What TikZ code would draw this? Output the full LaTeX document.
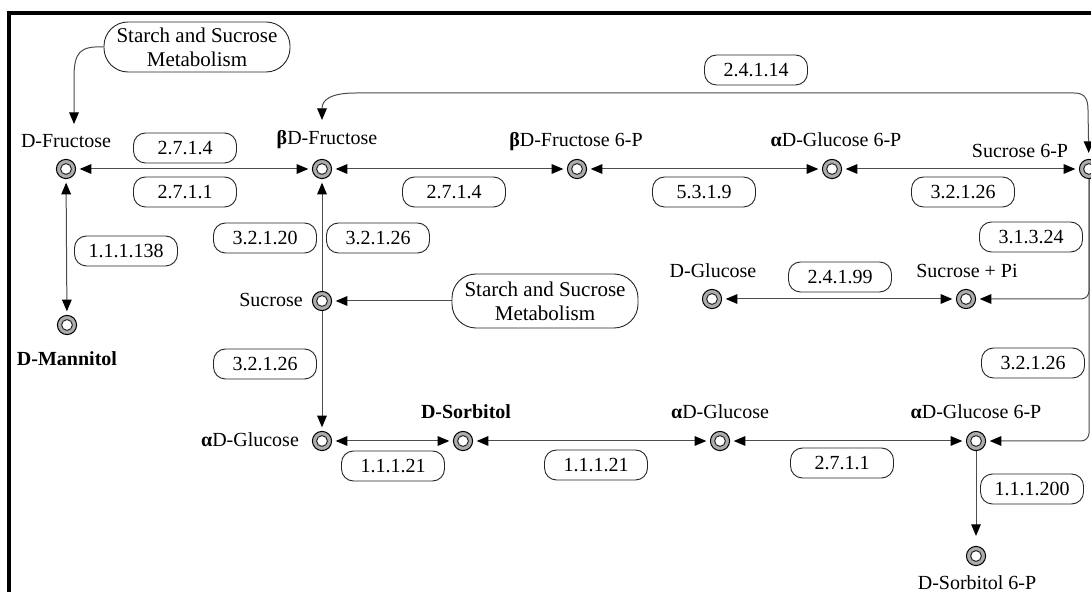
\documentclass[tikz,border=0pt]{standalone}
\usepackage{fontspec}
\setmainfont{Liberation Serif}
\usetikzlibrary{arrows.meta}
\tikzset{
  met/.style={circle, minimum size=9.6pt, inner sep=0pt, draw=black, line width=0.5pt, fill=gray!65,
    path picture={\fill[white] (path picture bounding box.center) circle (2.7pt);
      \draw[black!85, line width=0.5pt] (path picture bounding box.center) circle (2.7pt);}},
  lab/.style={anchor=base, inner sep=0pt, font=\fontsize{10}{12}\selectfont},
  ec/.style={draw=black!85, line width=0.45pt, rounded corners=6pt, minimum width=51.5pt, minimum height=15pt,
    inner sep=0pt, font=\fontsize{10}{12}\selectfont},
  ssm/.style={draw=black!85, line width=0.45pt, rounded corners=12pt, minimum width=93pt, minimum height=25pt,
    inner sep=0pt, align=center, font=\fontsize{10.5}{12}\selectfont},
  arr/.style={-{Triangle[length=5.8pt,width=4.8pt,color=black]}, draw=black!70, line width=0.5pt, shorten >=1.8pt},
  darr/.style={{Triangle[length=5.8pt,width=4.8pt,color=black]}-{Triangle[length=5.8pt,width=4.8pt,color=black]},
    draw=black!70, line width=0.5pt, shorten >=1.8pt, shorten <=1.8pt},
}
\newcommand{\ga}{\textbf{α}}
\newcommand{\gb}{\textbf{β}}
\begin{document}
\begin{tikzpicture}[x=0.5pt,y=-0.5pt]
\clip (0,0) rectangle (1091,592);
\fill[white] (0,0) rectangle (1091,592);
% frame
\draw[line width=2pt, line join=miter] (9,592) -- (9,13) -- (1091,13);

% metabolites
\node[met] (fru)    at (66,169) {};
\node[met] (bfru)   at (322,169) {};
\node[met] (bf6p)   at (577,169) {};
\node[met] (ag6p)   at (832,169) {};
\node[met] (suc6p)  at (1089,169) {};
\node[met] (mann)   at (67,325) {};
\node[met] (sucr)   at (322,301) {};
\node[met] (glc)    at (712,299) {};
\node[met] (sucpi)  at (966,299) {};
\node[met] (aglc1)  at (322,441) {};
\node[met] (sorb)   at (463,441) {};
\node[met] (aglc2)  at (720,441) {};
\node[met] (ag6p2)  at (976,441) {};
\node[met] (sorb6p) at (976,556) {};

% labels
\node[lab] (fru-l)    at (66,148)  {D-Fructose};
\node[lab] (bfru-l)   at (327,145) {\gb D-Fructose};
\node[lab] (bf6p-l)   at (576,147) {\gb D-Fructose 6-P};
\node[lab] (ag6p-l)   at (836,147) {\ga D-Glucose 6-P};
\node[lab] (suc6p-l)  at (1020,158) {Sucrose 6-P};
\node[lab] (mann-l)   at (67,366)  {\textbf{D-Mannitol}};
\node[lab] (sucr-l)   at (271,307) {Sucrose};
\node[lab] (glc-l)    at (713,278) {D-Glucose};
\node[lab] (sucpi-l)  at (967,278) {Sucrose + Pi};
\node[lab] (aglc1-l)  at (250,447) {\ga D-Glucose};
\node[lab] (sorb-l)   at (466,419) {\textbf{D-Sorbitol}};
\node[lab] (aglc2-l)  at (720,419) {\ga D-Glucose};
\node[lab] (ag6p2-l)  at (976,419) {\ga D-Glucose 6-P};
\node[lab] (sorb6p-l) at (977,589) {D-Sorbitol 6-P};

% enzyme boxes
\node[ec] (e1)  at (185,148)  {2.7.1.4};
\node[ec] (e2)  at (185,192)  {2.7.1.1};
\node[ec] (e3)  at (126,251)  {1.1.1.138};
\node[ec] (e4)  at (265,238)  {3.2.1.20};
\node[ec] (e5)  at (378,238)  {3.2.1.26};
\node[ec] (e6)  at (265,364)  {3.2.1.26};
\node[ec] (e7)  at (454,192)  {2.7.1.4};
\node[ec] (e8)  at (704,192)  {5.3.1.9};
\node[ec] (e9)  at (756,70)   {2.4.1.14};
\node[ec] (e10) at (963,192)  {3.2.1.26};
\node[ec] (e11) at (1031,237) {3.1.3.24};
\node[ec] (e12) at (840,277)  {2.4.1.99};
\node[ec] (e13) at (1033,363) {3.2.1.26};
\node[ec] (e14) at (393,466)  {1.1.1.21};
\node[ec] (e15) at (596,465)  {1.1.1.21};
\node[ec] (e16) at (842,463)  {2.7.1.1};
\node[ec] (e17) at (1032,489) {1.1.1.200};

% pathway boxes
\node[ssm] (ssm1) at (197,47)  {Starch and Sucrose\\Metabolism};
\node[ssm, minimum height=27pt] (ssm2) at (545,301) {Starch and Sucrose\\Metabolism};

% connectors
\coordinate (fruin) at (74,124);
\coordinate (bfin)  at (322,120);
\draw[arr, shorten >=0pt] (ssm1.west) .. controls (80,46) and (74,52) .. (74,78) -- (fruin);
\draw[darr, shorten <=0pt, shorten >=3pt] (bfin) .. controls (322,100) and (330,93) .. (356,93) -- (1074,93)
   .. controls (1085,93) and (1088,99) .. (1088,110) -- (suc6p);
\draw[darr] (fru) -- (bfru);
\draw[darr] (fru) -- (mann);
\draw[darr] (bfru) -- (bf6p);
\draw[darr] (bf6p) -- (ag6p);
\draw[darr] (ag6p) -- (suc6p);
\draw[arr] (sucr) -- (bfru);
\draw[arr] (ssm2) -- (sucr);
\draw[arr] (sucr) -- (aglc1);
\draw[darr] (aglc1) -- (sorb);
\draw[darr] (sorb) -- (aglc2);
\draw[darr] (aglc2) -- (ag6p2);
\draw[arr, shorten >=5pt] (ag6p2) -- (sorb6p);
\draw[darr] (glc) -- (sucpi);
\draw[arr, rounded corners=4pt] (suc6p) |- (sucpi);
\draw[arr, rounded corners=4pt] (suc6p) |- (ag6p2);
\end{tikzpicture}
\end{document}
